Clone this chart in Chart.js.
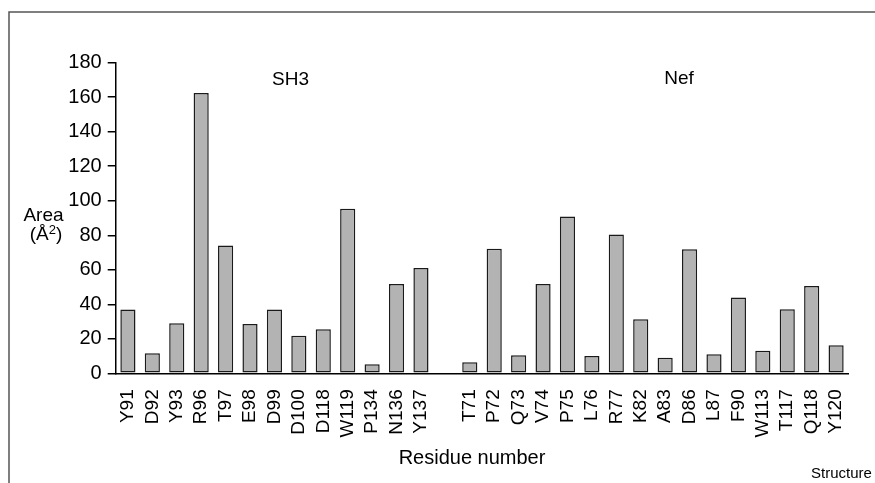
<!DOCTYPE html>
<html><head><meta charset="utf-8">
<script src="https://cdn.jsdelivr.net/npm/chart.js@4"></script>
<style>html,body{margin:0;padding:0;background:#fff;overflow:hidden;} #wrap{position:relative;width:875px;height:483px;}</style>
</head><body><div id="wrap"><canvas id="c" width="875" height="483"></canvas></div>
<script>
const categories = ['Y91','D92','Y93','R96','T97','E98','D99','D100','D118','W119','P134','N136','Y137','',
  'T71','P72','Q73','V74','P75','L76','R77','K82','A83','D86','L87','F90','W113','T117','Q118','Y120'];
const areaValues = [37,11.6,29,162.5,74,28.6,37,21.8,25.5,95.4,5.2,51.7,61,null,
  6.4,72.2,10.4,51.7,90.8,10,80.5,31.3,9,71.9,11,44,13.1,37.1,50.6,16.2];
const yTickValues = [0,20,40,60,80,100,120,140,160,180];
const groupLabels = ['SH3','Nef'];
const yTitle = ['Area','(Å','2',')'];
const xTitle = 'Residue number';
const footer = 'Structure';

const FONT = "'Liberation Sans', Arial, Helvetica, sans-serif";
Chart.defaults.font.family = FONT;
Chart.defaults.color = '#000';

const decor = {
  id: 'decor',
  afterDraw(chart) {
    const ctx = chart.ctx;
    ctx.save();
    ctx.strokeStyle = '#555';
    ctx.lineWidth = 1.5;
    ctx.beginPath();
    ctx.moveTo(9, 483); ctx.lineTo(9, 12); ctx.lineTo(875, 12);
    ctx.stroke();
    ctx.fillStyle = '#000';
    ctx.textBaseline = 'middle';
    ctx.textAlign = 'center';
    ctx.font = '19px ' + FONT;
    ctx.fillText(groupLabels[0], 290.5, 80);
    ctx.fillText(groupLabels[1], 679, 79);
    ctx.fillText(yTitle[0], 43.5, 216);
    ctx.textAlign = 'left';
    const w1 = ctx.measureText(yTitle[1]).width;
    ctx.font = '13px ' + FONT;
    const w2 = ctx.measureText(yTitle[2]).width;
    ctx.font = '19px ' + FONT;
    const w3 = ctx.measureText(yTitle[3]).width;
    let x0 = 46 - (w1 + w2 + w3) / 2;
    ctx.fillText(yTitle[1], x0, 235);
    ctx.font = '13px ' + FONT;
    ctx.fillText(yTitle[2], x0 + w1, 230);
    ctx.font = '19px ' + FONT;
    ctx.fillText(yTitle[3], x0 + w1 + w2, 235);
    ctx.textAlign = 'center';
    ctx.font = '20px ' + FONT;
    ctx.fillText(xTitle, 472, 458);
    ctx.textAlign = 'left';
    ctx.font = '15px ' + FONT;
    ctx.fillText(footer, 811, 474);
    ctx.restore();
  }
};

new Chart(document.getElementById('c'), {
  type: 'bar',
  data: {
    labels: categories,
    datasets: [{
      data: areaValues,
      backgroundColor: '#b3b3b3',
      borderColor: '#1a1a1a',
      borderWidth: 1.5,
      borderSkipped: false,
      barPercentage: 0.62,
      categoryPercentage: 1.0
    }]
  },
  options: {
    responsive: false,
    animation: false,
    devicePixelRatio: 1,
    layout: { padding: { left: 0, top: 62.7, right: 26.7, bottom: 0 } },
    plugins: { legend: { display: false }, tooltip: { enabled: false }, title: { display: false } },
    scales: {
      x: {
        grid: { display: false },
        border: { display: true, color: '#000', width: 1.5 },
        ticks: { maxRotation: 90, minRotation: 90, autoSkip: false, padding: 8, font: { size: 19 }, color: '#000' },
        afterFit(s) { s.height = 483 - 373.3; }
      },
      y: {
        min: 0, max: 180,
        afterBuildTicks(s) { s.ticks = yTickValues.map(v => ({ value: v })); },
        grid: { drawOnChartArea: false, drawTicks: true, tickLength: 8, color: '#000', lineWidth: 1.5 },
        border: { display: true, color: '#000', width: 1.5 },
        ticks: { padding: 6, font: { size: 20 }, color: '#000' },
        afterFit(s) { s.width = 115.7; }
      }
    }
  },
  plugins: [decor]
});
</script>
</body></html>
